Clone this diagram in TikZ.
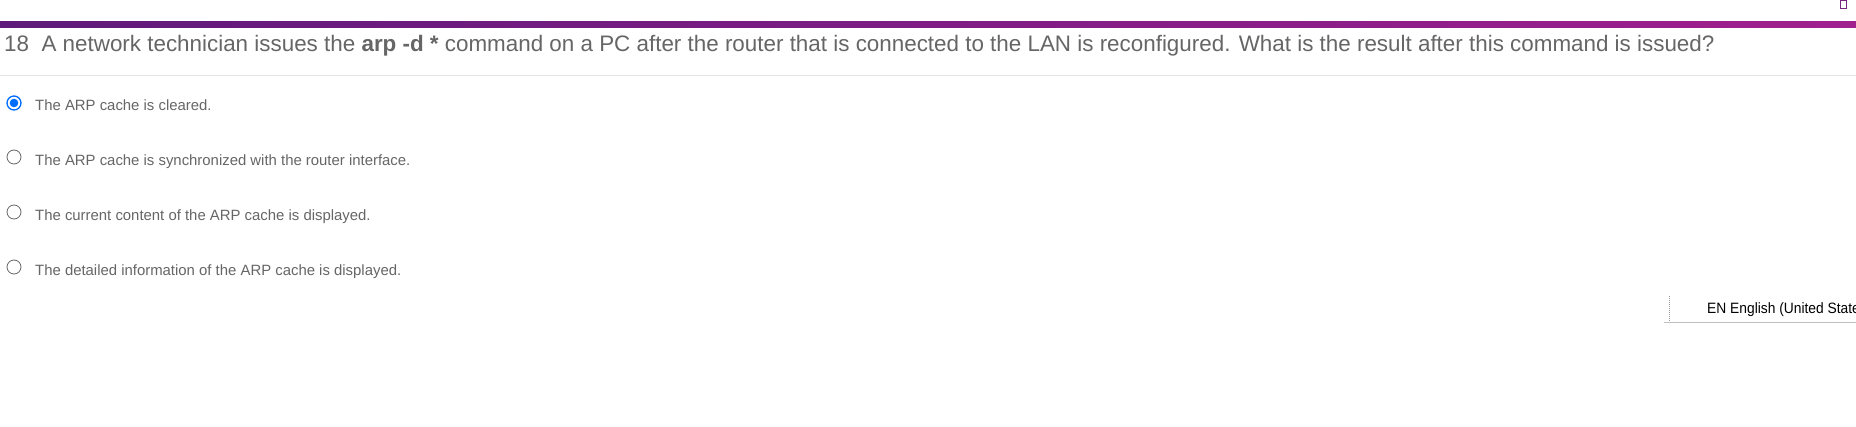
\documentclass[tikz,border=0pt]{standalone}
\usepackage{fontspec}
\setmainfont{Liberation Sans}
\definecolor{pA}{RGB}{94,26,122}
\definecolor{pB}{RGB}{160,32,142}
\definecolor{pI}{RGB}{120,40,130}
\definecolor{rb}{RGB}{0,110,255}
\begin{document}
\begin{tikzpicture}[x=1pt,y=-1pt,
  q/.style={anchor=base west,inner sep=0pt,text=black!60,font=\fontsize{22.4}{26}\selectfont},
  opt/.style={anchor=base west,inner sep=0pt,text=black!60,font=\fontsize{14.9}{17}\selectfont},
  radio/.style={circle,draw=black!60,line width=0.8pt,minimum size=14pt,inner sep=0pt}]
\clip (0,0) rectangle (1856,427);
\fill[white] (0,0) rectangle (1856,427);
\shade[left color=pA,right color=pB] (0,22) rectangle (1856,28);
\node[draw=pI,line width=0.8pt,minimum width=6pt,minimum height=8pt,inner sep=0pt] (icon) at (1843,4) {};
\node[q] (title) at (4,52) {18\ \ A network technician issues the \textbf{arp -d *} command on a PC after the router that is connected to the LAN is reconfigured. What is the result after this command is issued?};
\draw[black!10] (0,75) -- (1856,75);
\node[radio,draw=rb,line width=1.3pt] (r1) at (14,103) {};
\fill[rb] (r1.center) circle (4.3pt);
\node[opt] (o1) at (35,111) {The ARP cache is cleared.};
\node[radio] (r2) at (14,157) {};
\node[opt] (o2) at (35,166) {The ARP cache is synchronized with the router interface.};
\node[radio] (r3) at (14,212) {};
\node[opt] (o3) at (35,221) {The current content of the ARP cache is displayed.};
\node[radio] (r4) at (14,267) {};
\node[opt] (o4) at (35,276) {The detailed information of the ARP cache is displayed.};
\draw[black!40,densely dotted,line width=1pt] (1669,296) -- (1669,322);
\draw[black!25] (1664,322) -- (1856,322);
\node[anchor=base west,inner sep=0pt,font=\fontsize{15}{17}\selectfont\addfontfeatures{FakeStretch=0.92}] (en) at (1707,314) {EN English (United States)};
\end{tikzpicture}
\end{document}
